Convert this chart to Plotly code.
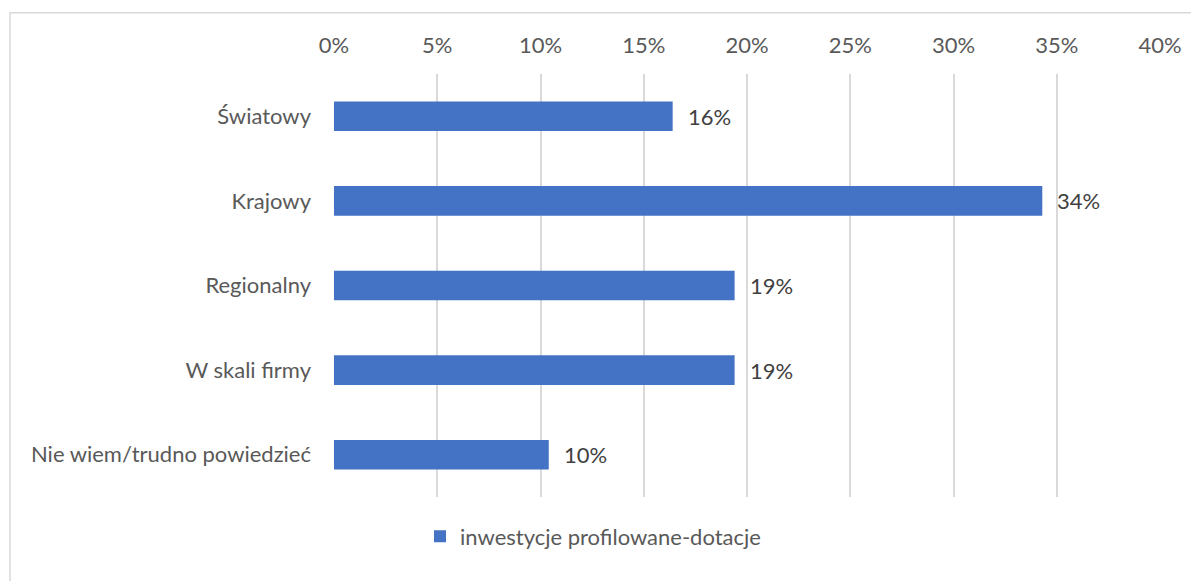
import plotly.graph_objects as go

categories = ["Światowy", "Krajowy", "Regionalny", "W skali firmy", "Nie wiem/trudno powiedzieć"]
values = [0.164, 0.343, 0.194, 0.194, 0.104]
series_name = "inwestycje profilowane-dotacje"
tick_vals = [0, 0.05, 0.10, 0.15, 0.20, 0.25, 0.30, 0.35, 0.40]
tick_text = ["0%", "5%", "10%", "15%", "20%", "25%", "30%", "35%", "40%"]

FONT = "Lato"
FS = 22
OFF = 8  # default page body margin
W, H = 1199 - OFF, 581 - OFF
L, T = 334 - OFF, 73.5 - OFF
R = W - (1160 - OFF)
B = H - (497.5 - OFF)
pw, ph = W - L - R, H - T - B

def px_x(p):
    return (p - OFF - L) / pw

def px_y(p):
    return (H - B - (p - OFF)) / ph

fig = go.Figure()
fig.add_trace(go.Bar(
    x=values, y=categories, orientation="h", name=series_name,
    marker=dict(color="#4472C4", line=dict(width=0)),
    width=0.35, showlegend=True,
))

for c, v in zip(categories, values):
    fig.add_annotation(x=v, y=c, xref="x", yref="y", text=f"{round(v*100)}%",
                       showarrow=False, xanchor="left", xshift=13,
                       font=dict(family=FONT, size=FS, color="#404040"))

fig.add_shape(type="rect", xref="paper", yref="paper",
              x0=px_x(10), x1=px_x(1215), y0=px_y(600), y1=px_y(12),
              line=dict(color="#d9d9d9", width=1.5), fillcolor="rgba(0,0,0,0)", layer="below")

fig.update_layout(
    width=W, height=H,
    margin=dict(l=L, r=R, t=T, b=B, autoexpand=False),
    paper_bgcolor="white", plot_bgcolor="white",
    font=dict(family=FONT, size=FS, color="#595959"),
    xaxis=dict(side="top", range=[0, 0.40], tickvals=tick_vals, ticktext=tick_text,
               showgrid=True, gridcolor="#d9d9d9", gridwidth=2, zeroline=False,
               showline=False, ticks="", ticklabelstandoff=16,
               tickfont=dict(family=FONT, size=FS, color="#595959")),
    yaxis=dict(categoryorder="array", categoryarray=categories[::-1], autorange=False,
               range=[-0.5, 4.5], showgrid=False, zeroline=False, showline=False,
               ticks="", ticklabelstandoff=22,
               tickfont=dict(family=FONT, size=FS, color="#595959")),
    legend=dict(orientation="h", x=px_x(420), xanchor="left", y=px_y(537), yanchor="middle",
                font=dict(family=FONT, size=FS, color="#595959"), itemwidth=30,
                bgcolor="rgba(0,0,0,0)"),
)

fig.write_html("out.html")
